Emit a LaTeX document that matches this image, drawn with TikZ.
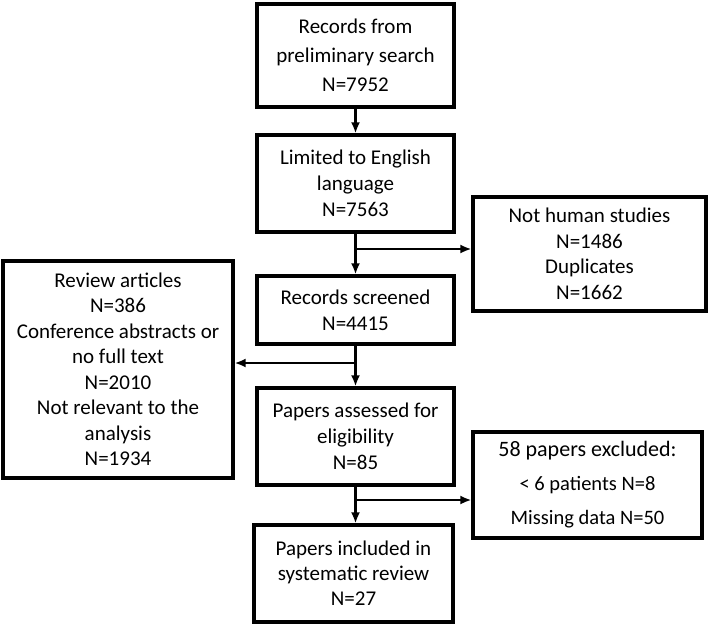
\documentclass[tikz,border=0pt]{standalone}
\usepackage{fontspec}
\setmainfont{Carlito}
\usetikzlibrary{arrows.meta}

\begin{document}
\begin{tikzpicture}[x=1pt,y=-1pt,
  box/.style={draw,line width=3.2pt,align=center,inner sep=0pt},
  flow/.style={line width=2.4pt,-{Latex[length=11pt,width=9pt]}}]
\useasboundingbox (0,0) rectangle (709,626);
\node[box,minimum width=197,minimum height=103,font=\fontsize{21}{29}\selectfont] (search) at (355.5,55.5) {Records from\\preliminary search\\N=7952};
\node[box,minimum width=197,minimum height=97,font=\fontsize{21}{26}\selectfont] (english) at (355.5,183.5) {Limited to English\\language\\N=7563};
\node[box,minimum width=197,minimum height=68,font=\fontsize{21}{26}\selectfont] (screened) at (355.5,310) {Records screened\\N=4415};
\node[box,minimum width=197,minimum height=97,font=\fontsize{21}{26}\selectfont] (assessed) at (355.5,436.5) {Papers assessed for\\eligibility\\N=85};
\node[box,minimum width=199,minimum height=97,font=\fontsize{21}{25}\selectfont] (included) at (353.5,573.5) {Papers included in\\systematic review\\N=27};
\node[box,minimum width=233,minimum height=114,font=\fontsize{21}{25.5}\selectfont] (human) at (589.5,254) {Not human studies\\N=1486\\Duplicates\\N=1662};
\node[box,minimum width=230,minimum height=217,font=\fontsize{21}{25.5}\selectfont] (review) at (118,369.5) {Review articles\\N=386\\Conference abstracts or\\no full text\\N=2010\\Not relevant to the\\analysis\\N=1934};
\node[box,minimum width=229,minimum height=106,font=\fontsize{22}{34}\selectfont] (excluded) at (587.5,485) {58 papers excluded:\\{\fontsize{20.5}{34}\selectfont < 6 patients N=8}\\{\fontsize{20.5}{33}\selectfont Missing data N=50}};
% branch points on the main line
\coordinate (j1) at (355,249);
\coordinate (j2) at (355,363);
\coordinate (j3) at (355,500);
\draw[flow] (search) -- (english);
\draw[flow] (english) -- (screened);
\draw[flow] (j1) -- (j1 -| human.west);
\draw[flow] (screened) -- (assessed);
\draw[flow] (j2) -- (j2 -| review.east);
\draw[flow] (assessed.south) -- (assessed.south |- included.north);
\draw[flow] (j3) -- (j3 -| excluded.west);
\end{tikzpicture}
\end{document}
